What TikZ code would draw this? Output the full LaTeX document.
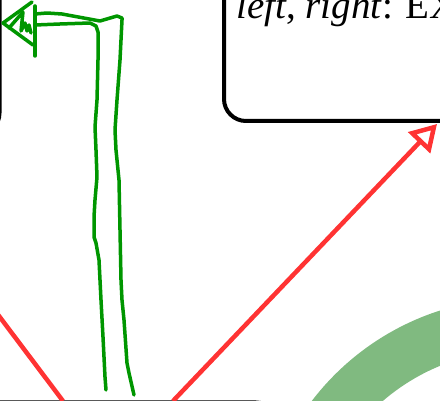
\documentclass[tikz,border=0pt]{standalone}
\usepackage{fontspec}
\setmainfont{Liberation Serif}
\usetikzlibrary{arrows.meta}
\definecolor{redline}{RGB}{255,51,51}
\definecolor{penGreen}{RGB}{0,150,0}
\definecolor{bandGreen}{RGB}{128,186,128}
\begin{document}
\begin{tikzpicture}[x=1pt,y=-1pt,
  boxframe/.style={draw=black, line width=4pt, rounded corners=22pt, rectangle, inner sep=0pt},
  redarrow/.style={draw=redline, line width=4.5pt, -{Triangle[open,length=26pt,width=30pt]}},
  pen/.style={draw=penGreen, line width=3.5pt, line cap=round, line join=round},
  bandstroke/.style={draw=bandGreen, line width=52pt},
]
\useasboundingbox (0,0) rectangle (440,401);
% boxes
\node[boxframe, minimum width=300pt, minimum height=300pt, anchor=south east] (leftbox) at (1.5,137) {};
\node[boxframe, minimum width=300pt, minimum height=250pt, anchor=south west] (rightbox) at (222,123) {};
\node[boxframe, minimum width=400pt, minimum height=200pt, anchor=north east] (bottombox) at (280,400.5) {};
\node[anchor=base west, inner sep=0pt, font=\fontsize{39}{43}\selectfont] (label) at (236,19) {\textit{left}, \textit{right}: EX};
% green band
\draw[bandstroke] (284,560) arc[start angle=180, end angle=280, radius=236];
% red arrows
\coordinate (ltail) at (63,401);
\coordinate (ltip) at (-135,138);
\coordinate (rtail) at (173,401);
\coordinate (rtip) at (437,124);
\draw[redarrow] (ltail) -- (ltip);
\draw[redarrow] (rtail) -- (rtip);
% hand-drawn green arrow
\draw[pen] (106,390) -- (105,377) -- (103,337) -- (101,300) -- (99,260) -- (96,243) -- (94,237) -- (94,217) -- (95,200) -- (97,177) -- (96,150) -- (95,127) -- (97,100) -- (98,60) -- (98,32) -- (96,26) -- (90,23) -- (60,24) -- (35,25);
\draw[pen] (134,395) -- (129,373) -- (127,363) -- (124,320) -- (122,300) -- (121,280) -- (120,230) -- (119,180) -- (116,150) -- (115,130) -- (117,100) -- (120,60) -- (122,20) -- (122,18) -- (117,16) -- (100,21) -- (62,14) -- (47,13) -- (35,14);
\draw[pen] (35,56) -- (35,6);
\draw[pen] (32,2) -- (3,23) -- (33,45);
\draw[pen] (9,28) -- (23,12) -- (21,31) -- (25,23) -- (27,31) -- (29,25) -- (31,33);
\end{tikzpicture}
\end{document}
